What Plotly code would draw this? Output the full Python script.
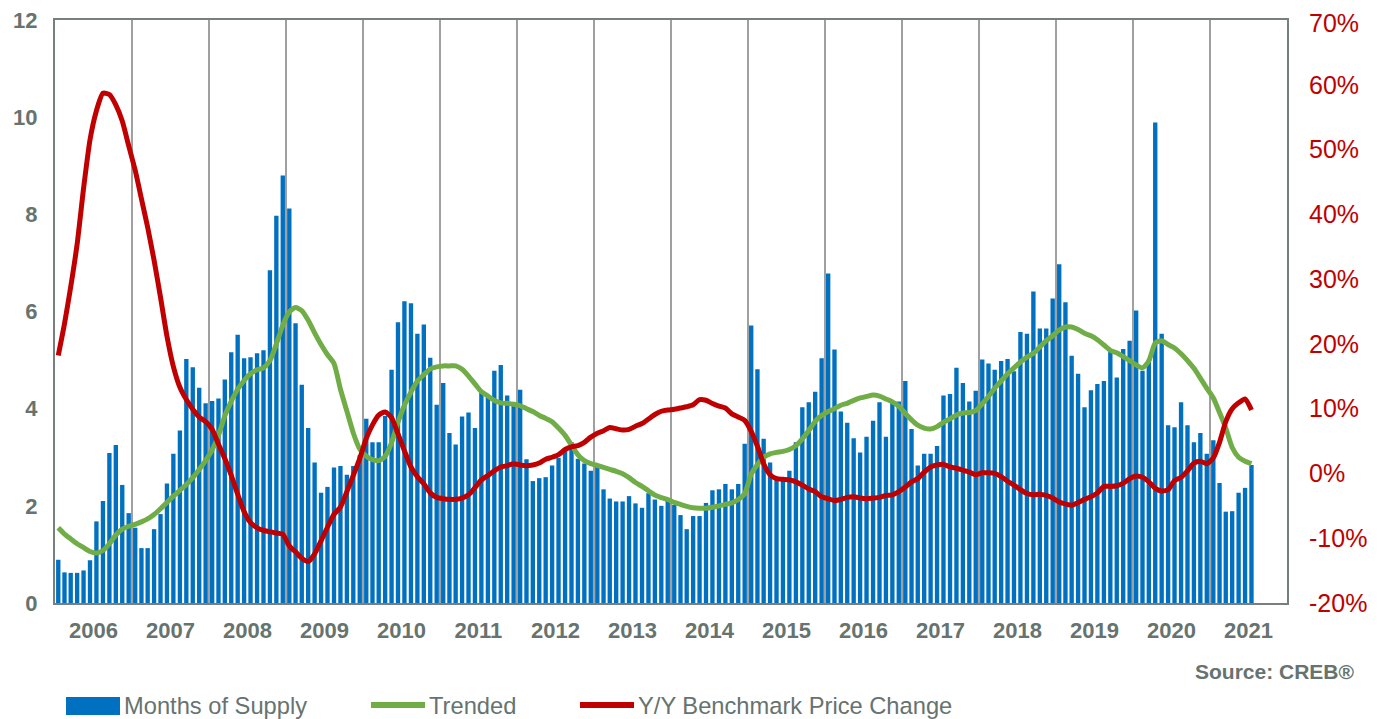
import pandas as pd
import plotly.graph_objects as go

# ---------------- data (monthly, Jan 2006 onward) ----------------
start_month = "2006-01-01"

months_of_supply = [
    0.89, 0.63, 0.62, 0.62, 0.67, 0.88, 1.68, 2.10, 3.09, 3.25, 2.43, 1.85,   # 2006
    1.55, 1.13, 1.13, 1.52, 1.83, 2.46, 3.07, 3.55, 5.02, 4.85, 4.43, 4.11,   # 2007
    4.16, 4.21, 4.60, 5.16, 5.52, 5.04, 5.06, 5.14, 5.20, 6.85, 7.97, 8.80,   # 2008
    8.12, 5.76, 4.49, 3.60, 2.89, 2.27, 2.39, 2.79, 2.82, 2.64, 2.82, 3.04,   # 2009
    3.79, 3.31, 3.31, 3.85, 4.80, 5.78, 6.21, 6.17, 5.54, 5.73, 5.05, 4.08,   # 2010
    4.53, 3.50, 3.26, 3.84, 3.92, 3.60, 4.32, 4.25, 4.78, 4.90, 4.27, 4.13,   # 2011
    4.39, 2.96, 2.51, 2.57, 2.59, 2.83, 2.99, 3.18, 3.31, 2.97, 2.87, 2.72,   # 2012
    2.80, 2.34, 2.15, 2.09, 2.09, 2.20, 2.05, 1.96, 2.26, 2.13, 2.00, 2.13,   # 2013
    2.02, 1.81, 1.52, 1.79, 1.79, 2.06, 2.32, 2.34, 2.45, 2.34, 2.45, 3.28,   # 2014
    5.71, 4.81, 3.38, 2.89, 2.55, 2.51, 2.72, 3.31, 4.03, 4.13, 4.35, 5.04,   # 2015
    6.78, 5.22, 3.94, 3.71, 3.39, 3.10, 3.42, 3.75, 4.13, 3.42, 4.13, 4.15,   # 2016
    4.57, 3.58, 2.83, 3.07, 3.07, 3.23, 4.27, 4.30, 4.84, 4.53, 4.15, 4.37,   # 2017
    5.01, 4.93, 4.80, 4.98, 5.02, 4.77, 5.58, 5.54, 6.41, 5.65, 5.65, 6.27,   # 2018
    6.97, 6.19, 5.09, 4.72, 4.03, 4.38, 4.51, 4.57, 5.22, 4.64, 5.23, 5.40,   # 2019
    6.02, 4.78, 5.01, 9.89, 5.54, 3.66, 3.62, 4.13, 3.66, 3.31, 3.50, 3.07,   # 2020
    3.35, 2.47, 1.88, 1.89, 2.27, 2.37, 2.84,                                 # 2021
]

trended = [
    1.55, 1.42, 1.32, 1.22, 1.14, 1.06, 1.03, 1.08, 1.22, 1.40, 1.52, 1.58,
    1.62, 1.67, 1.73, 1.82, 1.94, 2.07, 2.20, 2.32, 2.44, 2.58, 2.75, 2.93,
    3.15, 3.45, 3.85, 4.15, 4.40, 4.58, 4.72, 4.80, 4.84, 4.99, 5.33, 5.72,
    5.99, 6.08, 6.02, 5.82, 5.56, 5.32, 5.11, 4.93, 4.40, 3.95, 3.50, 3.17,
    3.02, 2.95, 2.93, 3.02, 3.30, 3.72, 4.07, 4.34, 4.57, 4.70, 4.82, 4.86,
    4.88, 4.88, 4.88, 4.81, 4.67, 4.51, 4.35, 4.26, 4.17, 4.12, 4.11, 4.09,
    4.06, 4.00, 3.94, 3.86, 3.80, 3.73, 3.60, 3.45, 3.25, 3.05, 2.93, 2.87,
    2.83, 2.79, 2.75, 2.71, 2.66, 2.58, 2.48, 2.40, 2.31, 2.22, 2.17, 2.13,
    2.07, 2.03, 1.99, 1.96, 1.95, 1.95, 1.97, 2.00, 2.03, 2.06, 2.13, 2.25,
    2.65, 2.85, 3.00, 3.07, 3.10, 3.12, 3.16, 3.24, 3.38, 3.55, 3.74, 3.86,
    3.94, 4.00, 4.07, 4.11, 4.17, 4.22, 4.25, 4.28, 4.26, 4.20, 4.14, 4.05,
    3.90, 3.77, 3.66, 3.60, 3.58, 3.63, 3.72, 3.79, 3.87, 3.91, 3.92, 3.96,
    4.10, 4.25, 4.42, 4.57, 4.72, 4.84, 4.96, 5.06, 5.14, 5.27, 5.40, 5.50,
    5.62, 5.68, 5.68, 5.63, 5.55, 5.50, 5.42, 5.31, 5.20, 5.15, 5.07, 4.99,
    4.90, 4.84, 4.98, 5.35, 5.40, 5.32, 5.25, 5.13, 4.99, 4.83, 4.63, 4.42,
    4.22, 3.92, 3.60, 3.20, 3.00, 2.92, 2.87,
]

yy_price_change = [
    18.2, 23.1, 28.8, 35.4, 44.0, 51.5, 56.0, 58.7, 58.5, 56.9, 54.4, 50.6,
    46.8, 42.4, 38.0, 32.9, 27.2, 21.2, 16.5, 13.3, 11.4, 9.9, 8.7, 8.0,
    6.8, 4.5, 2.3, -0.3, -3.2, -5.9, -7.6, -8.4, -8.8, -9.0, -9.2, -9.4,
    -11.2, -12.1, -13.1, -13.6, -12.4, -10.4, -8.3, -6.3, -5.2, -2.8, -0.3, 2.3,
    5.4, 7.5, 9.0, 9.5, 8.6, 6.1, 3.5, 1.0, -0.5, -1.6, -3.0, -3.7,
    -3.9, -4.0, -4.0, -3.8, -3.3, -2.2, -1.0, -0.3, 0.4, 1.0, 1.2, 1.5,
    1.3, 1.2, 1.3, 1.6, 2.2, 2.5, 2.9, 3.7, 4.1, 4.3, 4.8, 5.6,
    6.2, 6.6, 7.1, 6.9, 6.7, 6.8, 7.3, 7.7, 8.4, 9.1, 9.6, 9.8,
    9.9, 10.1, 10.3, 10.6, 11.4, 11.3, 10.8, 10.4, 10.1, 9.2, 8.7, 8.2,
    6.5, 4.2, 1.5, -0.2, -0.8, -0.9, -1.0, -1.3, -1.8, -2.4, -2.8, -3.6,
    -3.9, -4.2, -4.0, -3.7, -3.6, -3.8, -3.9, -3.8, -3.7, -3.4, -3.3, -2.8,
    -2.1, -1.3, -0.8, 0.2, 1.0, 1.3, 1.4, 1.0, 0.8, 0.5, 0.2, -0.2,
    0.1, 0.1, 0.0, -0.5, -1.2, -1.8, -2.5, -3.1, -3.3, -3.2, -3.4, -3.8,
    -4.4, -4.7, -4.9, -4.5, -4.0, -3.6, -3.0, -2.0, -2.0, -1.9, -1.5, -0.8,
    -0.4, -0.6, -1.3, -2.3, -2.7, -2.5, -1.1, -0.6, 0.4, 1.6, 1.9, 1.5,
    2.4, 4.8, 8.0, 10.0, 10.9, 11.5, 9.8,
]

left_ticks = [0, 2, 4, 6, 8, 10, 12]
right_ticks = [-20, -10, 0, 10, 20, 30, 40, 50, 60, 70]
right_tick_labels = [f"{v}%" for v in right_ticks]
x_range = ["2006-01-01", "2022-01-01"]

legend_labels = ["Months of Supply", "Trended", "Y/Y Benchmark Price Change"]
source_text = "Source: CREB®"

# ---------------- styling ----------------
BLUE = "#0070C0"
GREEN = "#70AD47"
RED = "#C00000"
GRAY_TXT = "#66736F"
AXIS_GRAY = "#76817F"
GRID_GRAY = "#A0A0A0"
FONT = "Liberation Sans, Arial, sans-serif"
RIGHT_FONT_SIZE = 25

months = pd.date_range(start_month, periods=len(months_of_supply), freq="MS")

# the page body adds an 8px margin, so the figure is laid out 8px smaller
OFF = 8
W, H = 1383 - OFF, 719 - OFF
ML, MR, MT, MB = 55 - OFF, W - (1287 - OFF), 20 - OFF, H - (603 - OFF)
PW, PH = W - ML - MR, H - MT - MB


def px(xp):  # screen pixel -> paper x
    return (xp - OFF - ML) / PW


def py(yp):  # screen pixel -> paper y
    return (H - MB - (yp - OFF)) / PH


fig = go.Figure()
fig.add_trace(go.Bar(
    x=months, y=months_of_supply, name=legend_labels[0],
    marker=dict(color=BLUE, line=dict(width=0)),
    xperiod="M1", xperiodalignment="middle", yaxis="y",
))
fig.add_trace(go.Scatter(
    x=months, y=trended, name=legend_labels[1], mode="lines",
    line=dict(color=GREEN, width=5, shape="spline", smoothing=0.6),
    xperiod="M1", xperiodalignment="middle", yaxis="y",
))
fig.add_trace(go.Scatter(
    x=months, y=yy_price_change, name=legend_labels[2], mode="lines",
    line=dict(color=RED, width=5, shape="spline", smoothing=0.6),
    xperiod="M1", xperiodalignment="middle", yaxis="y2",
))

fig.update_layout(
    width=W, height=H,
    margin=dict(l=ML, r=MR, t=MT, b=MB, pad=0, autoexpand=False),
    paper_bgcolor="white", plot_bgcolor="white",
    showlegend=False, bargap=0.3,
    font=dict(family=FONT, color=GRAY_TXT),
    xaxis=dict(
        type="date", range=x_range, tick0="2006-01-01", dtick="M12",
        tickformat="%Y", ticklabelmode="period", automargin=False,
        ticklabeloverflow="allow",
        showgrid=True, gridcolor=GRID_GRAY, gridwidth=2,
        showline=True, linecolor=AXIS_GRAY, linewidth=2, mirror=True,
        ticks="", tickfont=dict(size=22, color=GRAY_TXT, family=FONT, weight="bold"),
        ticklabelstandoff=7, zeroline=False,
    ),
    yaxis=dict(
        range=[0, 12], tickvals=left_ticks, showgrid=False, zeroline=False,
        automargin=False, ticklabeloverflow="allow",
        showline=True, linecolor=AXIS_GRAY, linewidth=2, mirror=True,
        ticks="", tickfont=dict(size=22, color=GRAY_TXT, family=FONT, weight="bold"),
        ticklabelstandoff=11,
    ),
    # the top label (70%) is drawn as an annotation so it stays inside the page
    yaxis2=dict(
        range=[right_ticks[0], right_ticks[-1]], tickmode="array",
        tickvals=right_ticks[:-1], ticktext=right_tick_labels[:-1],
        automargin=False, ticklabeloverflow="allow",
        overlaying="y", side="right", showgrid=False, zeroline=False,
        showline=False, ticks="",
        tickfont=dict(size=RIGHT_FONT_SIZE, color=RED, family=FONT),
        ticklabelstandoff=21,
    ),
)

fig.add_annotation(text=right_tick_labels[-1], xref="paper", yref="paper",
                   x=px(1308), y=1 + MT / PH, xanchor="left", yanchor="top",
                   showarrow=False, borderpad=0,
                   font=dict(size=RIGHT_FONT_SIZE, color=RED, family=FONT))

# ---------------- legend (drawn manually, bottom) ----------------
fig.add_shape(type="rect", xref="paper", yref="paper",
              x0=px(66), x1=px(120), y0=py(697), y1=py(715),
              fillcolor=BLUE, line=dict(width=0))
fig.add_shape(type="line", xref="paper", yref="paper",
              x0=px(371), x1=px(425), y0=py(705), y1=py(705),
              line=dict(color=GREEN, width=6))
fig.add_shape(type="line", xref="paper", yref="paper",
              x0=px(580), x1=px(634), y0=py(705), y1=py(705),
              line=dict(color=RED, width=6))
for lab, xpos in zip(legend_labels, [123, 428, 637]):
    fig.add_annotation(text=lab, xref="paper", yref="paper",
                       x=px(xpos), y=py(706), xanchor="left", yanchor="middle",
                       showarrow=False, borderpad=0,
                       font=dict(size=23.7, color=GRAY_TXT, family=FONT))

fig.add_annotation(text=source_text, xref="paper", yref="paper",
                   x=px(1356), y=py(671), xanchor="right", yanchor="middle",
                   showarrow=False, borderpad=0,
                   font=dict(size=21, color=GRAY_TXT, family=FONT, weight="bold"))

fig.write_html("out.html")
